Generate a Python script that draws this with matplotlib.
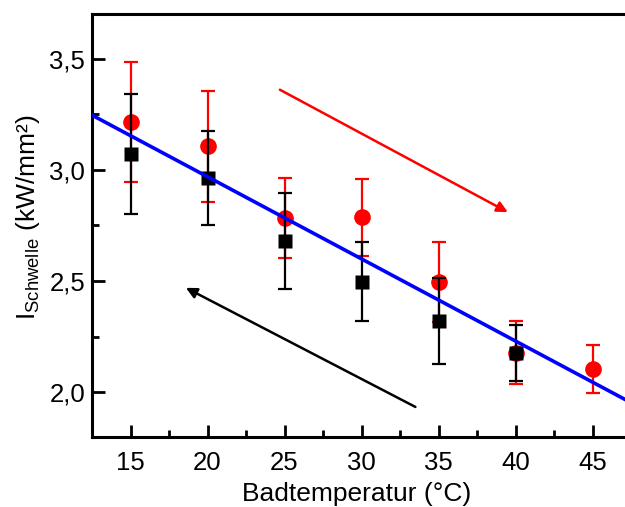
import matplotlib
matplotlib.use("Agg")
import matplotlib.pyplot as plt
from matplotlib.ticker import FixedLocator, FuncFormatter, MultipleLocator
import numpy as np

plt.rcParams['font.family'] = ['Liberation Sans', 'DejaVu Sans']
plt.rcParams['mathtext.fontset'] = 'custom'
plt.rcParams['mathtext.rm'] = 'Liberation Sans'
plt.rcParams['mathtext.it'] = 'Liberation Sans'

# Data
temp_red = [15, 20, 25, 30, 35, 40, 45]
val_red = [3.214, 3.106, 2.785, 2.786, 2.498, 2.178, 2.106]
err_red = [0.27, 0.25, 0.18, 0.175, 0.18, 0.142, 0.107]

temp_black = [15, 20, 25, 30, 35, 40]
val_black = [3.07, 2.963, 2.679, 2.497, 2.32, 2.178]
err_black = [0.27, 0.213, 0.215, 0.178, 0.193, 0.126]

fit_slope = -0.0369
fit_intercept = 3.707

x_ticks = [15, 20, 25, 30, 35, 40, 45]
y_ticks = [2.0, 2.5, 3.0, 3.5]

red_arrow = [(24.7, 3.36), (39.5, 2.81)]
black_arrow = [(33.5, 1.935), (18.6, 2.47)]

fig = plt.figure(figsize=(6.25, 5.07), dpi=100)
ax = fig.add_axes([92/625, 70/507, 539/625, 423/507])
xlim = (12.5, 47.5)
ax.set_xlim(*xlim)
ax.set_ylim(1.8, 3.7)

# markers
ax.plot(temp_red, val_red, 'o', color='#ff0000', ms=12, mec='none', zorder=2)
ax.errorbar(temp_red, val_red, yerr=err_red, fmt='none', ecolor='#ff0000',
            elinewidth=1.6, capsize=5, capthick=1.6, zorder=3)
ax.plot(temp_black, val_black, 's', color='black', ms=9.7, mec='none', zorder=4)
ax.errorbar(temp_black, val_black, yerr=err_black, fmt='none', ecolor='black',
            elinewidth=1.6, capsize=5, capthick=1.6, zorder=5)

xs = np.array(xlim)
ax.plot(xs, fit_intercept + fit_slope * xs, color='#0000ff', lw=2.6, zorder=6)

ax.annotate('', xy=red_arrow[1], xytext=red_arrow[0],
            arrowprops=dict(arrowstyle='-|>', color='#ff0000', lw=1.8,
                            mutation_scale=16, shrinkA=0, shrinkB=0))
ax.annotate('', xy=black_arrow[1], xytext=black_arrow[0],
            arrowprops=dict(arrowstyle='-|>', color='black', lw=1.8,
                            mutation_scale=16, shrinkA=0, shrinkB=0))

ax.xaxis.set_major_locator(FixedLocator(x_ticks))
ax.xaxis.set_minor_locator(MultipleLocator(2.5))
ax.yaxis.set_major_locator(FixedLocator(y_ticks))
ax.yaxis.set_minor_locator(MultipleLocator(0.25))
ax.yaxis.set_major_formatter(FuncFormatter(lambda v, p: f"{v:.1f}".replace('.', ',')))
ax.xaxis.set_major_formatter(FuncFormatter(lambda v, p: f"{v:.0f}"))

ax.tick_params(which='major', direction='in', length=9, width=2, labelsize=18.5,
               top=False, right=False)
ax.tick_params(which='minor', direction='in', length=5, width=2,
               top=False, right=False)
ax.tick_params(axis='x', which='major', pad=10)
ax.tick_params(axis='y', which='major', pad=5)

for s in ax.spines.values():
    s.set_linewidth(2.2)

ax.set_xlabel('Badtemperatur (°C)', fontsize=19)
ax.set_ylabel(r'$\mathregular{I_{Schwelle}}$ (kW/mm²)', fontsize=19)
ax.xaxis.set_label_coords(0.491, -0.107)
ax.yaxis.set_label_coords(-0.093, 0.52)

fig.savefig('out.png', dpi=100)
